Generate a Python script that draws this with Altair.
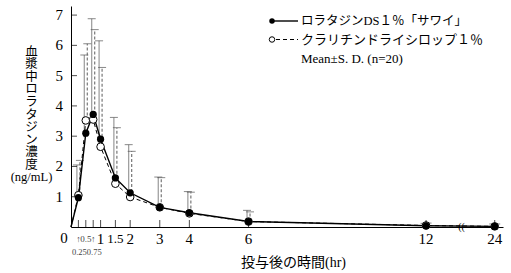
import altair as alt
import pandas as pd

# ---- data ----
times = [0, 0.25, 0.5, 0.75, 1, 1.5, 2, 3, 4, 6, 12, 24]
sawai_mean = [0, 0.97, 3.10, 3.72, 2.90, 1.62, 1.13, 0.65, 0.47, 0.18, 0.04, 0.02]
sawai_sd = [0, 1.08, 2.58, 3.16, 3.25, 2.00, 1.59, 1.00, 0.70, 0.37, 0.08, 0.08]
clar_mean = [0, 1.05, 3.52, 3.55, 2.65, 1.43, 0.99, 0.65, 0.45, 0.18, 0.05, 0.02]
clar_sd = [0, 1.15, 2.53, 2.97, 2.62, 1.85, 1.51, 0.98, 0.70, 0.32, 0.08, 0.08]
series_names = ["ロラタジンDS１％「サワイ」", "クラリチンドライシロップ１％"]
note_text = "Mean±S. D. (n=20)"
major_ticks = [1, 1.5, 2, 3, 4, 6, 12, 24]
major_labels = ["1", "1.5", "2", "3", "4", "6", "12", "24"]
minor_ticks = [0.25, 0.5, 0.75]
minor_up = ["↑", "0.5", "↑"]
minor_down = ["0.25", "", "0.75"]
y_ticks = [1, 2, 3, 4, 5, 6, 7]
y_labels = ["1", "2", "3", "4", "5", "6", "7"]
x_title = "投与後の時間(hr)"
y_title_lines = list("血漿中ロラタジン濃度") + [" ", "(ng/mL)"]
origin_label = ["0"]
break_label = ["(("]

FONT = "Liberation Serif, Noto Sans CJK JP, serif"
NUMFONT = "Liberation Serif"
NARROW = "Liberation Sans Narrow, Liberation Serif"
BREAK_POS = 14.32  # axis position where 24 h is drawn after the break


def pos(t):
    return t if t <= 12 else BREAK_POS


rows = []
for name, means, sds in [(series_names[0], sawai_mean, sawai_sd),
                         (series_names[1], clar_mean, clar_sd)]:
    for t, m, s in zip(times, means, sds):
        rows.append({"time": t, "pos": pos(t), "mean": m, "sd": s,
                     "top": m + s, "series": name})
df = pd.DataFrame(rows)
dfA = df[df.series == series_names[0]]
dfB = df[df.series == series_names[1]]
errA = dfA[dfA.time > 0]
errB = dfB[dfB.time > 0]

xscale = alt.Scale(domain=[0, 14.6], nice=False, zero=False)
yscale = alt.Scale(domain=[0, 7.3], nice=False)

X = alt.X("pos:Q", scale=xscale, axis=alt.Axis(
    values=[pos(t) for t in major_ticks], labels=False,
    grid=False, ticks=False, tickSize=0,
    domainColor="black", domainWidth=1,
    title=x_title, titleFont=FONT, titleFontSize=14, titleFontWeight="normal",
    titleColor="black", titleX=222, titleY=35, titleBaseline="middle",
    titleAnchor="start", titleAlign="center"))
Y = alt.Y("mean:Q", scale=yscale, axis=alt.Axis(
    values=y_ticks, grid=False, ticks=False, tickSize=0, labels=False,
    domainColor="black", domainWidth=1,
    title=y_title_lines, titleAngle=0, titleAlign="center", titleBaseline="top",
    titleX=-40, titleY=39, titleFont=FONT, titleFontSize=12.5,
    titleLineHeight=12.6, titleFontWeight="normal", titleColor="black"))

# error bars
errbarA = alt.Chart(errA).mark_rule(color="#999999", strokeWidth=1.2, xOffset=-1.5).encode(
    x=X, y=Y, y2="top:Q")
capA = alt.Chart(errA).mark_tick(orient="horizontal", size=8, thickness=1, color="#555555",
                                 xOffset=-1.5).encode(
    x=alt.X("pos:Q", scale=xscale), y=alt.Y("top:Q", scale=yscale))
errbarB = alt.Chart(errB).mark_rule(color="#777777", strokeWidth=1.2, strokeDash=[3, 2],
                                    xOffset=1.5).encode(
    x=alt.X("pos:Q", scale=xscale), y=alt.Y("mean:Q", scale=yscale), y2="top:Q")
capB = alt.Chart(errB).mark_tick(orient="horizontal", size=8, thickness=1, color="#555555",
                                 xOffset=1.5).encode(
    x=alt.X("pos:Q", scale=xscale), y=alt.Y("top:Q", scale=yscale))

lineA = alt.Chart(dfA).mark_line(color="black", strokeWidth=1.4).encode(
    x=alt.X("pos:Q", scale=xscale), y=alt.Y("mean:Q", scale=yscale))
lineB = alt.Chart(dfB).mark_line(color="black", strokeWidth=1, strokeDash=[4, 3]).encode(
    x=alt.X("pos:Q", scale=xscale), y=alt.Y("mean:Q", scale=yscale))
ptsB = alt.Chart(errB).mark_point(shape="circle", filled=True, fill="white", stroke="black",
                                  strokeWidth=1, size=58, opacity=1).encode(
    x=alt.X("pos:Q", scale=xscale), y=alt.Y("mean:Q", scale=yscale))
ptsA = alt.Chart(errA).mark_point(shape="circle", filled=True, color="black", size=52,
                                  opacity=1).encode(
    x=alt.X("pos:Q", scale=xscale), y=alt.Y("mean:Q", scale=yscale))

# inward axis ticks
xt_df = pd.DataFrame({"pos": [pos(t) for t in minor_ticks + major_ticks], "zero": 0.0})
xticks = alt.Chart(xt_df).mark_tick(orient="vertical", size=7, thickness=1, color="black",
                                    yOffset=-3.5).encode(
    x=alt.X("pos:Q", scale=xscale), y=alt.Y("zero:Q", scale=yscale))
yt_df = pd.DataFrame({"val": y_ticks, "zero": 0.0, "lab": y_labels})
yticks = alt.Chart(yt_df).mark_tick(orient="horizontal", size=6, thickness=1, color="black",
                                    xOffset=3).encode(
    x=alt.X("zero:Q", scale=xscale), y=alt.Y("val:Q", scale=yscale))

# tick labels
xl_df = pd.DataFrame({"pos": [pos(t) for t in major_ticks], "zero": 0.0, "lab": major_labels})
xlabels = alt.Chart(xl_df).transform_filter("indexof(datum.lab, '.') < 0").mark_text(
    font=NUMFONT, fontSize=15, color="black", dy=12, baseline="middle").encode(
    x=alt.X("pos:Q", scale=xscale), y=alt.Y("zero:Q", scale=yscale), text="lab:N")
xlabels_dec = alt.Chart(xl_df).transform_filter("indexof(datum.lab, '.') >= 0").mark_text(
    font=NUMFONT, fontSize=13, color="black", dy=12, baseline="middle").encode(
    x=alt.X("pos:Q", scale=xscale), y=alt.Y("zero:Q", scale=yscale), text="lab:N")
ylabels = alt.Chart(yt_df).mark_text(font=NUMFONT, fontSize=15, color="black", dx=-8,
                                     align="right", baseline="middle").encode(
    x=alt.X("zero:Q", scale=xscale), y=alt.Y("val:Q", scale=yscale), text="lab:N")

# small labels near the origin
o_df = pd.DataFrame({"pos": [0.0], "zero": [0.0], "lab": origin_label})
origin = alt.Chart(o_df).mark_text(font=NUMFONT, fontSize=15, color="black", dx=-7, dy=11,
                                   baseline="middle").encode(
    x=alt.X("pos:Q", scale=xscale), y=alt.Y("zero:Q", scale=yscale), text="lab:N")
m_df = pd.DataFrame({"pos": minor_ticks, "zero": 0.0, "up": minor_up, "down": minor_down})
minor_top = alt.Chart(m_df).mark_text(font=NARROW, fontSize=9, color="#444444", dy=12,
                                      baseline="middle").encode(
    x=alt.X("pos:Q", scale=xscale), y=alt.Y("zero:Q", scale=yscale), text="up:N")
minor_bot = alt.Chart(m_df).mark_text(font=NARROW, fontSize=8.5, color="#444444", dy=25, dx=1,
                                      baseline="middle").encode(
    x=alt.X("pos:Q", scale=xscale), y=alt.Y("zero:Q", scale=yscale), text="down:N")

b_df = pd.DataFrame({"pos": [13.2], "zero": [0.0], "lab": break_label})
brk = alt.Chart(b_df).mark_text(font=NUMFONT, fontSize=10, color="black", baseline="middle").encode(
    x=alt.X("pos:Q", scale=xscale), y=alt.Y("zero:Q", scale=yscale), text="lab:N")

# legend
leg_df = pd.DataFrame({"lab": [series_names[0]]})
legA_line = alt.Chart(leg_df).mark_rule(color="black", strokeWidth=1.4).encode(
    x=alt.value(201), x2=alt.value(227), y=alt.value(15))
legA_pt = alt.Chart(leg_df).mark_point(shape="circle", filled=True, color="black", size=30,
                                       opacity=1).encode(x=alt.value(201), y=alt.value(15))
legA_txt = alt.Chart(leg_df).mark_text(font=FONT, fontSize=12.5, color="black", align="left",
                                       baseline="middle").encode(
    x=alt.value(230), y=alt.value(15), text="lab:N")
leg_dfB = pd.DataFrame({"lab": [series_names[1]]})
legB_line = alt.Chart(leg_dfB).mark_rule(color="black", strokeWidth=1, strokeDash=[4, 3]).encode(
    x=alt.value(205), x2=alt.value(227), y=alt.value(33.5))
legB_pt = alt.Chart(leg_dfB).mark_point(shape="circle", filled=True, fill="white", stroke="black",
                                        strokeWidth=1, size=30, opacity=1).encode(
    x=alt.value(201), y=alt.value(33.5))
legB_txt = alt.Chart(leg_dfB).mark_text(font=FONT, fontSize=13, color="black", align="left",
                                        baseline="middle").encode(
    x=alt.value(230), y=alt.value(33.5), text="lab:N")
note_df = pd.DataFrame({"lab": [note_text]})
note = alt.Chart(note_df).mark_text(font=FONT, fontSize=13, color="black", align="left",
                                    baseline="middle").encode(
    x=alt.value(230), y=alt.value(53), text="lab:N")

chart = alt.layer(
    errbarA, errbarB, capA, capB, lineA, lineB, ptsB, ptsA,
    xticks, yticks, xlabels, xlabels_dec, ylabels, origin, minor_top, minor_bot, brk,
    legA_line, legA_pt, legA_txt, legB_line, legB_pt, legB_txt, note,
).properties(
    width=432, height=221, autosize="none",
    padding={"left": 71, "top": 6, "right": 8, "bottom": 46},
    background="white",
).configure_view(stroke=None)

chart.save("out.html", embed_options={"renderer": "svg", "actions": False})
